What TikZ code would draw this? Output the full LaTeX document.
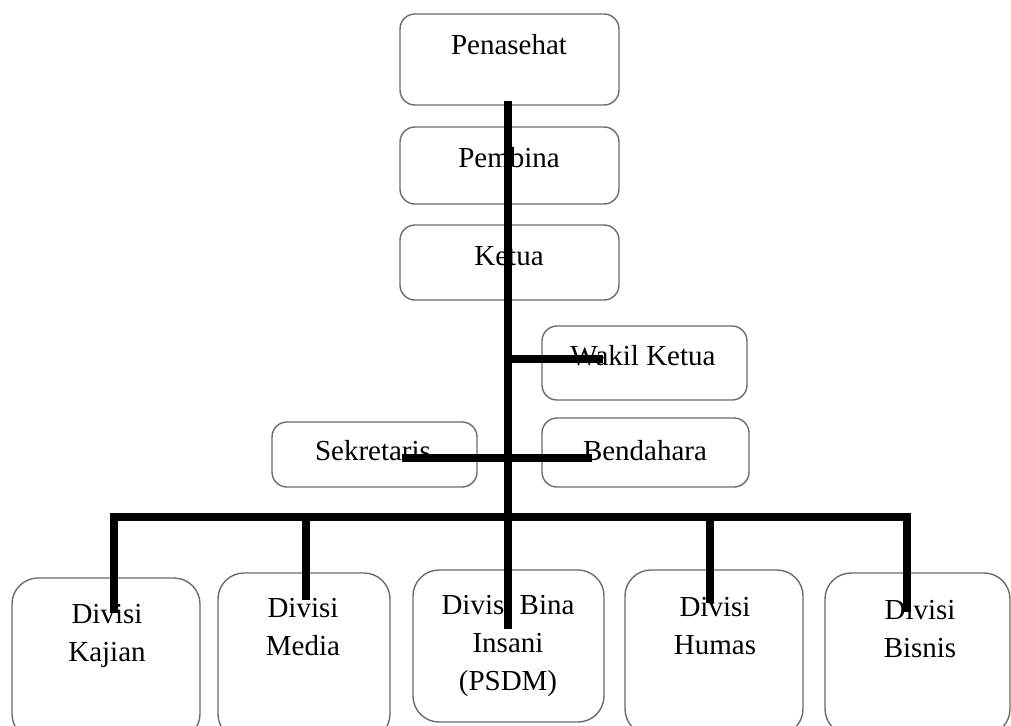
\documentclass[tikz,border=0pt]{standalone}
\usepackage{fontspec}
\setmainfont{Liberation Serif}
\begin{document}
\begin{tikzpicture}[x=1pt,y=-1pt,
  box/.style={draw=black!58, line width=1.4pt, rounded corners=15pt, inner sep=0pt},
  divbox/.style={box, rounded corners=26pt},
  lbl/.style={inner sep=0pt, anchor=base, font=\fontsize{29}{38}\selectfont, align=center},
  conn/.style={line width=7.5pt, black, line join=miter}]
\useasboundingbox (0,0) rectangle (1011,725);
\clip (0,0) rectangle (1011,725);

% upper boxes
\node[box, minimum width=219pt, minimum height=91pt] (pen) at (509.5,59.5) {};
\node[box, minimum width=219pt, minimum height=77pt] (pem) at (509.5,165.5) {};
\node[box, minimum width=219pt, minimum height=75pt] (ket) at (509.5,262.5) {};
\node[box, minimum width=205pt, minimum height=74pt] (wak) at (644.5,363) {};
\node[box, minimum width=205pt, minimum height=65pt] (sek) at (374.5,454.5) {};
\node[box, minimum width=207pt, minimum height=69pt] (ben) at (645.5,452.5) {};

% labels (anchored at the baseline of the last line)
\node[lbl] (tpen) at (509,55) {Penasehat};
\node[lbl] (tpem) at (509,167) {Pembina};
\node[lbl] (tket) at (509,265) {Ketua};
\node[lbl] (twak) at (643,365) {Wakil Ketua};
\node[lbl] (tsek) at (373,460) {Sekretaris};
\node[lbl] (tben) at (645,460) {Bendahara};

% division boxes
\node[divbox, minimum width=188pt, minimum height=162pt] (kaj) at (106,659) {};
\node[divbox, minimum width=172pt, minimum height=167pt] (med) at (304,656.5) {};
\node[divbox, minimum width=191pt, minimum height=152pt] (bin) at (508.5,646) {};
\node[divbox, minimum width=178pt, minimum height=165pt] (hum) at (714,652.5) {};
\node[divbox, minimum width=185pt, minimum height=162pt] (bis) at (917.5,654) {};

\node[lbl] (tkaj) at (107,661) {Divisi\\Kajian};
\node[lbl] (tmed) at (303,655) {Divisi\\Media};
\node[lbl] (tbin) at (508,690) {Divisi Bina\\Insani\\(PSDM)};
\node[lbl] (thum) at (715,654) {Divisi\\Humas};
\node[lbl] (tbis) at (920,657) {Divisi\\Bisnis};

% connector end points
\coordinate (trunktop) at (508,101);
\coordinate (trunkend) at (508,629);
\coordinate (wakL) at (505,359);
\coordinate (wakR) at (603,359);
\coordinate (sekR) at (402,458);
\coordinate (benL) at (592,458);
\coordinate (kajTop) at (114,517);
\coordinate (kajEnd) at (114,613);
\coordinate (bisTop) at (907,517);
\coordinate (bisEnd) at (907,612);
\coordinate (medTop) at (306,517);
\coordinate (medEnd) at (306,600);
\coordinate (humTop) at (710,517);
\coordinate (humEnd) at (710,603);

% connectors
\draw[conn] (trunktop) -- (trunkend);
\draw[conn] (wakL) -- (wakR);
\draw[conn] (sekR) -- (benL);
\draw[conn] (kajEnd) -- (kajTop) -- (bisTop) -- (bisEnd);
\draw[conn] (medTop) -- (medEnd);
\draw[conn] (humTop) -- (humEnd);
\end{tikzpicture}
\end{document}
